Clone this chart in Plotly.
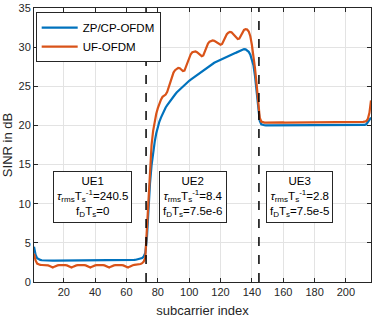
import plotly.graph_objects as go

# ---------------- data ----------------
subcarrier = list(range(1, 217))

zp_ue1 = [4.5, 3.5, 3.05, 2.9, 2.82, 2.78, 2.76, 2.75, 2.74, 2.74,
          2.74, 2.74, 2.73, 2.73, 2.73, 2.73, 2.73, 2.73, 2.73, 2.73,
          2.73, 2.73, 2.73, 2.73, 2.73, 2.73, 2.73, 2.73, 2.73, 2.73,
          2.73, 2.73, 2.73, 2.73, 2.73, 2.73, 2.73, 2.73, 2.73, 2.73,
          2.73, 2.73, 2.73, 2.73, 2.73, 2.73, 2.73, 2.73, 2.73, 2.73,
          2.73, 2.73, 2.73, 2.73, 2.74, 2.74, 2.74, 2.75, 2.75, 2.76,
          2.77, 2.78, 2.79, 2.80, 2.82, 2.84, 2.87, 2.90, 2.96, 3.05,
          3.25, 3.7]
zp_ue2 = [5.5, 9.5, 12.6, 14.9, 16.6, 17.9, 19.0, 19.8, 20.5, 21.0,
          21.5, 21.9, 22.3, 22.6, 22.9, 23.2, 23.45, 23.7, 23.95, 24.2,
          24.4, 24.6, 24.8, 25.0, 25.2, 25.4, 25.55, 25.7, 25.85, 26.0,
          26.15, 26.3, 26.45, 26.6, 26.75, 26.9, 27.05, 27.2, 27.35, 27.5,
          27.65, 27.8, 27.9, 28.0, 28.1, 28.2, 28.3, 28.4, 28.5, 28.6,
          28.7, 28.8, 28.9, 28.98, 29.06, 29.14, 29.22, 29.3, 29.4, 29.5,
          29.6, 29.7, 29.75, 29.72, 29.6, 29.4, 29.05, 28.5, 27.7, 26.3,
          24.5, 22.8]
zp_ue3 = [20.6, 20.15, 20.05, 20.02, 20.0, 20.0, 20.0, 20.0, 20.0, 20.0,
          20.0, 20.0, 20.0, 20.0, 20.0, 20.0, 20.0, 20.0, 20.0, 20.0,
          20.0, 20.0, 20.0, 20.0, 20.0, 20.0, 20.0, 20.0, 20.0, 20.0,
          20.0, 20.0, 20.0, 20.0, 20.0, 20.0, 20.0, 20.0, 20.0, 20.0,
          20.0, 20.0, 20.0, 20.0, 20.0, 20.0, 20.0, 20.0, 20.0, 20.0,
          20.0, 20.0, 20.0, 20.0, 20.0, 20.0, 20.0, 20.0, 20.0, 20.0,
          20.0, 20.0, 20.0, 20.0, 20.02, 20.02, 20.03, 20.06, 20.15, 20.4,
          20.7, 21.0]

uf_ue1 = [3.6, 2.75, 2.35, 2.22, 2.18, 2.17, 2.17, 2.16, 2.15, 2.12, 2.05, 1.95,
          1.85, 1.96, 2.06, 2.12, 2.15, 2.17, 2.17, 2.16, 2.15, 2.12, 2.05, 1.95,
          1.85, 1.96, 2.06, 2.12, 2.15, 2.17, 2.17, 2.16, 2.15, 2.12, 2.05, 1.95,
          1.85, 1.96, 2.06, 2.12, 2.15, 2.17, 2.17, 2.16, 2.15, 2.12, 2.05, 1.95,
          1.85, 1.96, 2.06, 2.12, 2.15, 2.17, 2.17, 2.16, 2.15, 2.12, 2.05, 1.95,
          1.85, 1.96, 2.07, 2.14, 2.18, 2.20, 2.22, 2.25, 2.30, 2.40, 2.60, 3.1]
uf_ue2 = [7.0, 11.5, 15.0, 17.5, 19.3, 20.6, 21.5, 22.2, 22.8, 23.3,
          23.65, 23.85, 23.95, 24.3, 25.0, 25.7, 26.3, 26.75, 27.05, 27.25,
          27.35, 27.3, 27.1, 26.95, 27.0, 27.5, 28.2, 28.75, 29.1, 29.35,
          29.45, 29.45, 29.35, 29.15, 28.95, 28.85, 28.95, 29.5, 30.1, 30.45,
          30.7, 30.8, 30.85, 30.8, 30.7, 30.55, 30.4, 30.3, 30.4, 30.9,
          31.35, 31.65, 31.85, 31.95, 31.9, 31.7, 31.45, 31.2, 31.05, 31.1,
          31.5, 31.95, 32.2, 32.3, 32.25, 32.0, 31.4, 30.3, 29.0, 27.3,
          25.3, 23.5]
uf_ue3 = [21.0, 20.5, 20.38, 20.36, 20.36, 20.37, 20.38, 20.38, 20.37, 20.36,
          20.36, 20.37, 20.38, 20.39, 20.39, 20.38, 20.37, 20.37, 20.38, 20.39,
          20.4, 20.4, 20.39, 20.38, 20.38, 20.39, 20.4, 20.41, 20.41, 20.4,
          20.39, 20.39, 20.4, 20.41, 20.42, 20.42, 20.41, 20.4, 20.4, 20.41,
          20.42, 20.43, 20.43, 20.42, 20.41, 20.41, 20.42, 20.43, 20.44, 20.44,
          20.43, 20.42, 20.42, 20.43, 20.44, 20.45, 20.45, 20.44, 20.43, 20.43,
          20.44, 20.45, 20.46, 20.46, 20.45, 20.45, 20.46, 20.48, 20.55, 20.85,
          21.6, 23.2]

zp_cp = zp_ue1 + zp_ue2 + zp_ue3
uf = uf_ue1 + uf_ue2 + uf_ue3

series_names = ["ZP/CP-OFDM", "UF-OFDM"]
series_colors = ["#0072BD", "#D95319"]

ue_bounds = [72.5, 144.5]
ue_label_x = [38.5, 102.3, 170.5]
ue_label_y = 10.9
ue_labels = [
    "UE1<br><i>τ</i><sub>rms</sub>T<sub>s</sub><sup>-1</sup>=240.5<br>f<sub>D</sub>T<sub>s</sub>=0",
    "UE2<br><i>τ</i><sub>rms</sub>T<sub>s</sub><sup>-1</sup>=8.4<br>f<sub>D</sub>T<sub>s</sub>=7.5e-6",
    "UE3<br><i>τ</i><sub>rms</sub>T<sub>s</sub><sup>-1</sup>=2.8<br>f<sub>D</sub>T<sub>s</sub>=7.5e-5",
]

x_ticks = [20, 40, 60, 80, 100, 120, 140, 160, 180, 200]
y_ticks = [0, 5, 10, 15, 20, 25, 30, 35]

# ---------------- figure ----------------
FONT = "Liberation Sans, Arial, Helvetica, sans-serif"
DARK = "#262626"

fig = go.Figure()
for name, ys, col in zip(series_names, [zp_cp, uf], series_colors):
    fig.add_trace(go.Scatter(x=subcarrier, y=ys, mode="lines", name=name,
                             line=dict(color=col, width=2.2)))

for b in ue_bounds:
    fig.add_shape(type="line", x0=b, x1=b, y0=0, y1=1, xref="x", yref="paper",
                  line=dict(color="black", width=1.5, dash="dash"))

for xl, txt in zip(ue_label_x, ue_labels):
    fig.add_annotation(x=xl, y=ue_label_y, xref="x", yref="y", text=txt,
                       showarrow=False, bgcolor="white", bordercolor=DARK,
                       borderwidth=1, borderpad=3,
                       font=dict(family=FONT, size=11.5, color="black"))

fig.update_layout(
    width=374, height=318,
    margin=dict(l=34, r=3, t=8, b=36),
    paper_bgcolor="white", plot_bgcolor="white",
    font=dict(family=FONT, size=11, color=DARK),
    showlegend=True,
    legend=dict(x=0.005, y=0.985, xanchor="left", yanchor="top",
                bgcolor="white", bordercolor=DARK, borderwidth=1,
                font=dict(family=FONT, size=11.5, color="black"),
                tracegroupgap=0, itemwidth=36),
)
fig.update_xaxes(range=[1, 216], tickvals=x_ticks, ticks="inside", ticklen=4,
                 tickcolor=DARK, showline=True, linecolor=DARK, linewidth=1,
                 mirror="ticks", showgrid=True, gridcolor="#e3e3e3", zeroline=False,
                 title=dict(text="subcarrier index", font=dict(size=13, color=DARK), standoff=8),
                 tickfont=dict(size=11, color=DARK))
fig.update_yaxes(range=[0, 35], tickvals=y_ticks, ticks="inside", ticklen=4,
                 tickcolor=DARK, showline=True, linecolor=DARK, linewidth=1,
                 mirror="ticks", showgrid=True, gridcolor="#e3e3e3", zeroline=False,
                 title=dict(text="SINR in dB", font=dict(size=13, color=DARK), standoff=4),
                 tickfont=dict(size=11, color=DARK))

fig.write_html("out.html", config={"displayModeBar": False},
               post_script="document.body.style.margin='0px';document.body.style.padding='0px';")
